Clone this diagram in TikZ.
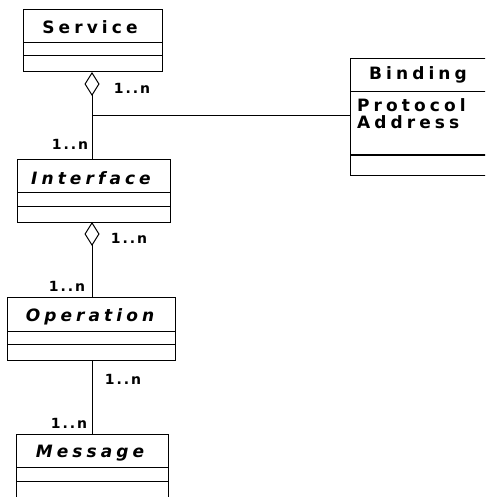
\documentclass[tikz,border=0pt]{standalone}
\usepackage{fontspec}
\newfontfamily\umlfont[LetterSpace=24]{DejaVu Sans Bold}
\newfontfamily\umlifont[LetterSpace=24]{DejaVu Sans Bold Oblique}
\newfontfamily\lblfont[LetterSpace=14]{DejaVu Sans Bold}
\usetikzlibrary{arrows.meta,calc}
\begin{document}
\begin{tikzpicture}[x=1pt,y=-1pt,
  box/.style={draw,line width=1pt,inner sep=0pt},
  ttl/.style={font=\umlfont\fontsize{17}{19}\selectfont,inner sep=0pt},
  ttli/.style={font=\umlifont\fontsize{17}{19}\selectfont,inner sep=0pt},
  attr/.style={font=\umlfont\fontsize{17}{19}\selectfont,inner sep=0pt,anchor=west},
  lbl/.style={font=\lblfont\fontsize{14}{16}\selectfont,inner sep=0pt},
  conn/.style={line width=1pt},
  agg/.style={conn,{Diamond[open,length=24pt,width=15pt,line width=1pt]}-}
]
\useasboundingbox (0,0) rectangle (485,497);
\begin{scope}
\clip (0,0) rectangle (485,497);
% Service
\node[box,minimum width=139pt,minimum height=62pt] (service) at (92.5,41) {};
\draw[conn] (23,43) -- (162,43) (23,56) -- (162,56);
\node[ttl] (serviceT) at (90,27) {Service};
% Interface
\node[box,minimum width=153pt,minimum height=63pt] (interface) at (93.5,190.5) {};
\draw[conn] (17,192) -- (170,192) (17,206) -- (170,206);
\node[ttli] (interfaceT) at (91,178) {Interface};
% Operation
\node[box,minimum width=168pt,minimum height=63pt] (operation) at (91,328.5) {};
\draw[conn] (7,331) -- (175,331) (7,344) -- (175,344);
\node[ttli] (operationT) at (90,317) {Operation};
% Message
\node[box,minimum width=152pt,minimum height=76pt] (message) at (92,472) {};
\draw[conn] (16,467) -- (168,467) (16,481) -- (168,481);
\node[ttli] (messageT) at (90,453) {Message};
% Binding
\node[box,minimum width=137pt,minimum height=116pt] (binding) at (418.5,117) {};
\draw[conn] (350,92) -- (487,92) (350,155) -- (487,155);
\node[ttl] (bindingT) at (418,75) {Binding};
\node[attr] (protocol) at (357,105) {Protocol};
\node[attr] (address) at (357,122) {Address};
\end{scope}
% connectors
\coordinate (s1) at (92,72);
\coordinate (i1) at (92,159);
\coordinate (j) at (92,116);
\coordinate (i2) at (92,222);
\coordinate (o1) at (92,297);
\coordinate (o2) at (92,360);
\coordinate (m1) at (92,434);
\draw[agg] (s1) -- (i1);
\draw[conn] (j) -- (j -| binding.west);
\draw[agg] (i2) -- (o1);
\draw[conn] (o2) -- (m1);
% labels
\node[lbl] (l1) at (132,88) {1..n};
\node[lbl] (l2) at (70,144) {1..n};
\node[lbl] (l3) at (129,238) {1..n};
\node[lbl] (l4) at (67,286) {1..n};
\node[lbl] (l5) at (123,379) {1..n};
\node[lbl] (l6) at (69,423) {1..n};
\end{tikzpicture}
\end{document}
